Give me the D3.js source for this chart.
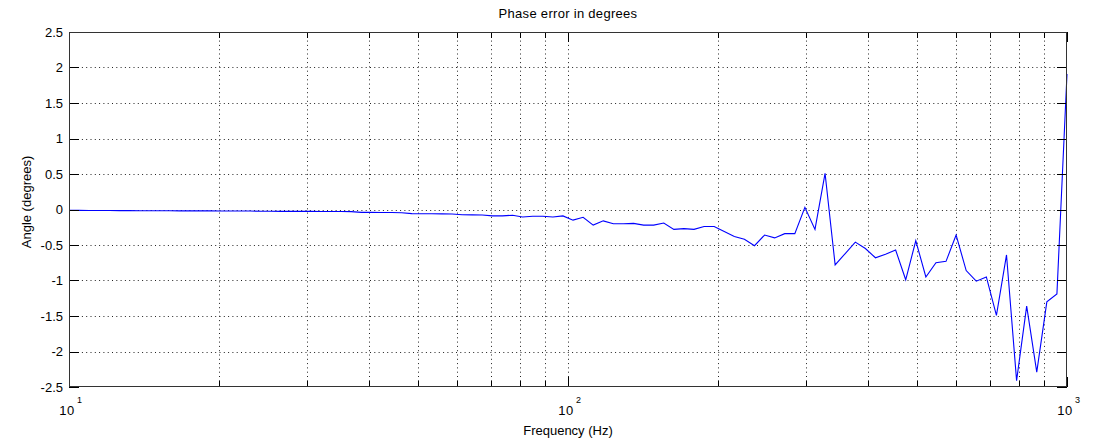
<!DOCTYPE html>
<html>
<head>
<meta charset="utf-8">
<script src="https://cdn.jsdelivr.net/npm/d3@7"></script>
<style>
  body { margin: 0; background: #fff; }
  svg { display: block; }
  text { font-family: "Liberation Sans", Arial, sans-serif; fill: #000; }
</style>
</head>
<body>
<div class="svg-container"></div>
<script>
// frequencies (Hz), log spaced 10..1000
const freqs = [
  10.00, 10.48, 10.97, 11.50, 12.05, 12.62, 13.22, 13.85, 14.51, 15.20,
  15.92, 16.68, 17.48, 18.31, 19.18, 20.09, 21.05, 22.05, 23.10, 24.20,
  25.35, 26.56, 27.83, 29.15, 30.54, 31.99, 33.52, 35.11, 36.78, 38.54,
  40.37, 42.29, 44.31, 46.42, 48.63, 50.94, 53.37, 55.91, 58.57, 61.36,
  64.28, 67.34, 70.55, 73.91, 77.43, 81.11, 84.98, 89.02, 93.26, 97.70,
  102.35, 107.23, 112.33, 117.68, 123.28, 129.15, 135.30, 141.75, 148.50, 155.57,
  162.98, 170.74, 178.87, 187.38, 196.30, 205.65, 215.44, 225.70, 236.45, 247.71,
  259.50, 271.86, 284.81, 298.36, 312.57, 327.45, 343.05, 359.38, 376.49, 394.42,
  413.20, 432.88, 453.49, 475.08, 497.70, 521.40, 546.23, 572.24, 599.48, 628.03,
  657.93, 689.26, 722.08, 756.46, 792.48, 830.22, 869.75, 911.17, 954.55, 1000.00
];

// phase error (degrees)
const phaseErr = [
  -0.010, -0.012, -0.014, -0.015, -0.015, -0.016, -0.016, -0.017, -0.017, -0.018,
  -0.018, -0.019, -0.019, -0.020, -0.020, -0.021, -0.021, -0.022, -0.022, -0.025,
  -0.025, -0.026, -0.026, -0.027, -0.027, -0.028, -0.028, -0.029, -0.030, -0.040,
  -0.040, -0.042, -0.043, -0.045, -0.058, -0.059, -0.060, -0.062, -0.063, -0.075,
  -0.076, -0.078, -0.090, -0.090, -0.080, -0.105, -0.095, -0.095, -0.105, -0.090,
  -0.150, -0.110, -0.220, -0.160, -0.200, -0.200, -0.195, -0.220, -0.220, -0.190,
  -0.280, -0.270, -0.280, -0.240, -0.240, -0.310, -0.380, -0.420, -0.510, -0.360,
  -0.400, -0.340, -0.340, 0.030, -0.280, 0.510, -0.780, -0.620, -0.460, -0.550,
  -0.680, -0.630, -0.570, -0.990, -0.440, -0.950, -0.750, -0.730, -0.360, -0.860,
  -1.010, -0.950, -1.490, -0.640, -2.410, -1.360, -2.290, -1.300, -1.190, 1.910
];

const xMajor = [10, 100, 1000];
const xMajorExp = ["1", "2", "3"];
const xMinor = [20, 30, 40, 50, 60, 70, 80, 90, 200, 300, 400, 500, 600, 700, 800, 900];
const yTicks = [-2.5, -2, -1.5, -1, -0.5, 0, 0.5, 1, 1.5, 2, 2.5];

const titleText = "Phase error in degrees";
const xLabel = "Frequency (Hz)";
const yLabel = "Angle (degrees)";

const W = 1094, H = 444;
const margin = { top: 32, right: 27, bottom: 57, left: 69 };
const width = W - margin.left - margin.right;
const height = H - margin.top - margin.bottom;

const svg = d3.select(".svg-container")
  .append("svg")
  .attr("width", W)
  .attr("height", H);

const g = svg.append("g")
  .attr("transform", "translate(" + margin.left + "," + margin.top + ")");

const xScale = d3.scaleLog().domain([10, 1000]).range([0, width]);
const yScale = d3.scaleLinear().domain([-2.5, 2.5]).range([height, 0]);

const px = v => Math.round(v) + 0.5;

// GRID (dotted) /////////////////////
const grid = g.append("g").attr("class", "grid")
  .attr("stroke", "#222")
  .attr("stroke-width", 1)
  .attr("stroke-dasharray", "1,3.3");

grid.selectAll("line.gx")
  .data(xMajor.concat(xMinor).filter(d => d > 10 && d < 1000))
  .enter().append("line")
  .attr("class", "gx")
  .attr("x1", d => px(xScale(d))).attr("x2", d => px(xScale(d)))
  .attr("y1", 0).attr("y2", height);

grid.selectAll("line.gy")
  .data(yTicks.filter(d => d > -2.5 && d < 2.5))
  .enter().append("line")
  .attr("class", "gy")
  .attr("y1", d => px(yScale(d))).attr("y2", d => px(yScale(d)))
  .attr("x1", 0).attr("x2", width);

// LINE /////////////////////
const line = d3.line()
  .x((d, i) => xScale(freqs[i]))
  .y(d => yScale(d));

g.append("path")
  .datum(phaseErr)
  .attr("fill", "none")
  .attr("stroke", "#0000ff")
  .attr("stroke-width", 1.1)
  .attr("d", line);

// TICKS (inward, all four sides) /////////////////////
const ticks = g.append("g").attr("stroke", "#000").attr("stroke-width", 1);

[0, height].forEach(function (yy, k) {
  const dir = k === 0 ? 1 : -1;
  ticks.selectAll(null).data(xMajor).enter().append("line")
    .attr("x1", d => px(xScale(d))).attr("x2", d => px(xScale(d)))
    .attr("y1", yy).attr("y2", yy + dir * 10);
  ticks.selectAll(null).data(xMinor).enter().append("line")
    .attr("x1", d => px(xScale(d))).attr("x2", d => px(xScale(d)))
    .attr("y1", yy).attr("y2", yy + dir * 6);
});

[0, width].forEach(function (xx, k) {
  const dir = k === 0 ? 1 : -1;
  ticks.selectAll(null).data(yTicks).enter().append("line")
    .attr("y1", d => px(yScale(d))).attr("y2", d => px(yScale(d)))
    .attr("x1", xx).attr("x2", xx + dir * 10);
});

// FRAME
g.append("rect")
  .attr("x", 0.5).attr("y", 0.5)
  .attr("width", width - 1).attr("height", height - 1)
  .attr("fill", "none")
  .attr("stroke", "#333")
  .attr("stroke-width", 1);

// TICK LABELS
g.selectAll("text.ylab")
  .data(yTicks)
  .enter().append("text")
  .attr("class", "ylab")
  .attr("x", -6)
  .attr("y", d => yScale(d) + 4.5)
  .attr("text-anchor", "end")
  .style("font-size", "13px")
  .text(d => d3.format("")(d).replace("−", "-"));

const xl = g.selectAll("g.xlab")
  .data(xMajor)
  .enter().append("g")
  .attr("class", "xlab")
  .attr("transform", d => "translate(" + xScale(d) + "," + (height + 28) + ")");

xl.append("text")
  .attr("x", -2)
  .attr("text-anchor", "middle")
  .style("font-size", "13px")
  .style("letter-spacing", "0.5px")
  .text("10");

xl.append("text")
  .attr("x", 8)
  .attr("y", -12)
  .style("font-size", "9px")
  .text((d, i) => xMajorExp[i]);

// TITLES
svg.append("text")
  .attr("x", margin.left + width / 2)
  .attr("y", 18)
  .attr("text-anchor", "middle")
  .style("font-size", "13px")
  .style("letter-spacing", "0.3px")
  .text(titleText);

svg.append("text")
  .attr("x", margin.left + width / 2)
  .attr("y", 435)
  .attr("text-anchor", "middle")
  .style("font-size", "13px")
  .text(xLabel);

svg.append("text")
  .attr("transform", "translate(31," + 202 + ") rotate(-90)")
  .attr("text-anchor", "middle")
  .style("font-size", "13px")
  .text(yLabel);
</script>
</body>
</html>
